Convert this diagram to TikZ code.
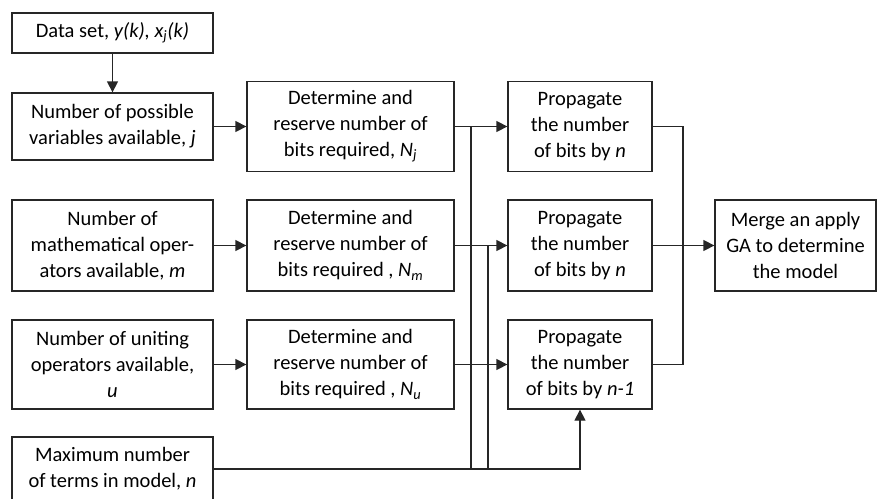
\documentclass[tikz,border=0pt]{standalone}
\usepackage{fontspec}
\setmainfont{Carlito}
\usetikzlibrary{arrows.meta}
\begin{document}
\begin{tikzpicture}[x=1pt,y=-1pt,
  box/.style={draw=black!85,line width=1.3pt,align=center,inner sep=0pt,
    font=\fontsize{20.5}{26}\selectfont,anchor=center},
  conn/.style={line width=1.3pt,draw=black!85},
  arr/.style={conn,-{Triangle[length=11pt,width=11pt]}}]
\useasboundingbox (0,0) rectangle (877,498);
% column 1
\node[box,minimum width=201pt,minimum height=40pt] (data) at (112.5,33) {Data set, \textit{y(k), x\textsubscript{j}(k)}};
\node[box,minimum width=201pt,minimum height=67pt] (var) at (112.5,126.5) {Number of possible\\variables available, \textit{j}};
\node[box,minimum width=201pt,minimum height=91pt] (math) at (112.5,245.5) {Number of\\mathematical oper-\\ators available, \textit{m}};
\node[box,minimum width=201pt,minimum height=89pt] (unit) at (112.5,364.5) {Number of uniting\\operators available,\\\textit{u}};
\node[box,minimum width=201pt,minimum height=64pt] (max) at (112.5,469) {Maximum number\\of terms in model, \textit{n}};
% column 2
\node[box,minimum width=207pt,minimum height=90pt] (detJ) at (350.5,126.5) {Determine and\\reserve number of\\bits required, \textit{N\textsubscript{j}}};
\node[box,minimum width=207pt,minimum height=91pt] (detM) at (350.5,245.5) {Determine and\\reserve number of\\bits required , \textit{N\textsubscript{m}}};
\node[box,minimum width=207pt,minimum height=89pt] (detU) at (350.5,364.5) {Determine and\\reserve number of\\bits required , \textit{N\textsubscript{u}}};
% column 3
\node[box,minimum width=144pt,minimum height=90pt] (propJ) at (580,126.5) {Propagate\\the number\\of bits by \textit{n}};
\node[box,minimum width=144pt,minimum height=91pt] (propM) at (580,245.5) {Propagate\\the number\\of bits by \textit{n}};
\node[box,minimum width=144pt,minimum height=89pt] (propU) at (580,364.5) {Propagate\\the number\\of bits by \textit{n-1}};
% merge
\node[box,minimum width=161pt,minimum height=91pt] (merge) at (795.5,245.5) {Merge an apply\\GA to determine\\the model};
% junction x positions
\coordinate (j1) at (471,0);
\coordinate (j2) at (488,0);
\coordinate (j3) at (683,0);
% connectors
\draw[arr] (data) -- (var);
\draw[arr] (var) -- (detJ);
\draw[arr] (math) -- (detM);
\draw[arr] (unit) -- (detU);
\draw[arr] (detJ) -- (propJ);
\draw[arr] (detM) -- (propM);
\draw[arr] (detU) -- (propU);
\draw[arr] (max.east) -| (propU.south);
\draw[conn] (max.east -| j1) -- (detJ.east -| j1);
\draw[conn] (max.east -| j2) -- (detM.east -| j2);
\draw[conn] (propJ.east) -| (propU.east -| j3) -- (propU.east);
\draw[arr] (propM) -- (merge);
\end{tikzpicture}
\end{document}
